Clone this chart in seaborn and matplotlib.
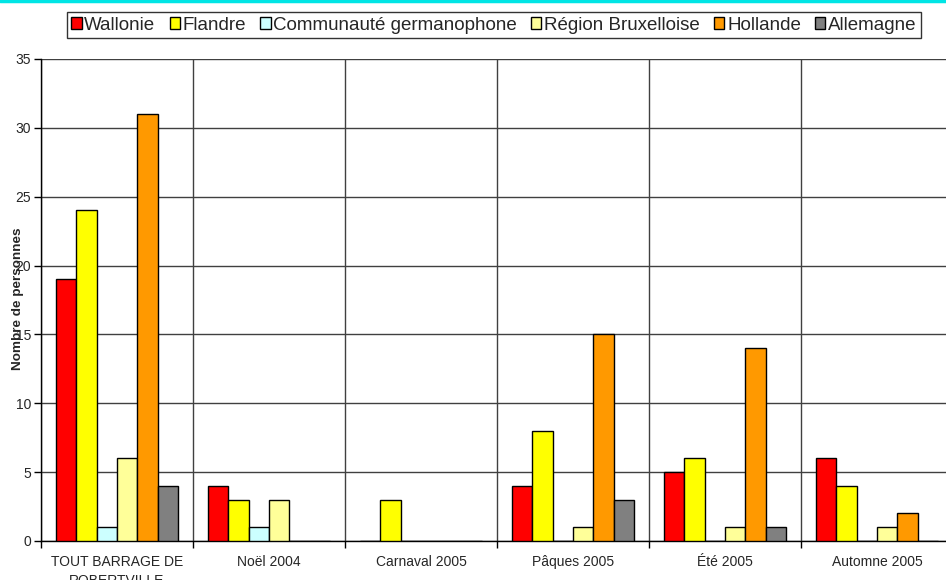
import matplotlib
matplotlib.use("Agg")
import matplotlib.pyplot as plt
from matplotlib.lines import Line2D
from matplotlib.patches import Patch
import seaborn as sns
import pandas as pd

categories = ["TOUT BARRAGE DE\nROBERTVILLE", "Noël 2004", "Carnaval 2005",
              "Pâques 2005", "Été 2005", "Automne 2005"]
series = ["Wallonie", "Flandre", "Communauté germanophone",
          "Région Bruxelloise", "Hollande", "Allemagne"]
wallonie = [19, 4, 0, 4, 5, 6]
flandre = [24, 3, 3, 8, 6, 4]
germanophone = [1, 1, 0, 0, 0, 0]
bruxelles = [6, 3, 0, 1, 1, 1]
hollande = [31, 0, 0, 15, 14, 2]
allemagne = [4, 0, 0, 3, 1, 0]
colors = ["#FF0000", "#FFFF00", "#CCFFFF", "#FFFF99", "#FF9900", "#808080"]

values = [wallonie, flandre, germanophone, bruxelles, hollande, allemagne]
rows = []
for s, vals in zip(series, values):
    for c, v in zip(categories, vals):
        rows.append({"cat": c, "serie": s, "val": v})
df = pd.DataFrame(rows)

sns.set_theme(style="white")
plt.rcParams["font.family"] = ["Liberation Sans", "DejaVu Sans"]

fig = plt.figure(figsize=(9.46, 5.8), dpi=100)
ax = fig.add_axes([41/946, 39/580, 912/946, 482/580])

sns.barplot(data=df, x="cat", y="val", hue="serie", order=categories,
            hue_order=series, palette=colors, width=0.8, edgecolor="black",
            linewidth=1.0, saturation=1, ax=ax, legend=False, zorder=3)

ax.set_xlim(-0.5, 5.5)
ax.set_ylim(0, 35)
ax.set_yticks(range(0, 36, 5))
ax.yaxis.grid(True, color="#404040", linewidth=1, zorder=0)
ax.set_xticks([i - 0.5 for i in range(7)], minor=True)
ax.xaxis.grid(True, which="minor", color="#404040", linewidth=1, zorder=0)
ax.set_axisbelow(True)
ax.tick_params(axis="x", which="major", length=0, labelsize=10, pad=10)
ax.tick_params(axis="x", which="minor", length=5, width=1, color="black", direction="out", bottom=True)
ax.tick_params(axis="y", length=5, width=1, color="black", direction="out", left=True, labelsize=10, pad=2)
for lab in ax.get_xticklabels():
    lab.set_linespacing(1.45)
for side in ["top", "right"]:
    ax.spines[side].set_visible(False)
for side in ["left", "bottom"]:
    ax.spines[side].set_color("black")
    ax.spines[side].set_linewidth(1)
ax.set_xlabel("")
ax.set_ylabel("")
fig.text(18/946, 1 - 299/580, "Nombre de personnes", rotation=90, ha="center", va="center",
         fontsize=9.7, fontweight="bold")

handles = [Patch(facecolor=c, edgecolor="black", linewidth=1) for c in colors]
leg = fig.legend(handles, series, loc="center", bbox_to_anchor=(494/946, 1 - 25/580),
                 ncol=6, frameon=True, fontsize=13.5, handlelength=0.55, handleheight=0.55,
                 handletextpad=0.15, columnspacing=0.75, borderpad=0.25, borderaxespad=0,
                 fancybox=False)
leg.get_frame().set_edgecolor("black")
leg.get_frame().set_linewidth(1)

fig.add_artist(Line2D([0, 1], [1 - 1/580, 1 - 1/580], color="#00E5E5", linewidth=2.5,
                      transform=fig.transFigure))

fig.savefig("out.png", dpi=100)
